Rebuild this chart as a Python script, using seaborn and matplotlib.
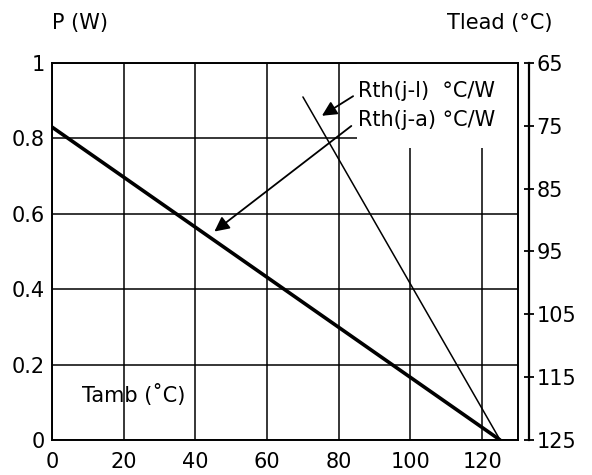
import matplotlib
matplotlib.use("Agg")
import matplotlib.pyplot as plt
from matplotlib.patches import Rectangle
import seaborn as sns
import pandas as pd

# ---- data ----
tamb_ja = [0, 125]          # Rth(j-a) line, Tamb (°C)
p_ja = [0.83, 0.0]          # P (W)
tamb_jl = [70, 125]         # Rth(j-l) line
p_jl = [0.91, 0.0]
x_ticks = [0, 20, 40, 60, 80, 100, 120]
y_ticks = [0, 0.2, 0.4, 0.6, 0.8, 1]
y_tick_labels = ["0", "0.2", "0.4", "0.6", "0.8", "1"]
tlead_ticks = [65, 75, 85, 95, 105, 115, 125]

sns.set_theme(style="white")
plt.rcParams["font.family"] = ["DejaVu Sans"]
plt.rcParams["text.color"] = "black"
plt.rcParams["xtick.color"] = "black"
plt.rcParams["ytick.color"] = "black"
plt.rcParams["xtick.labelcolor"] = "black"
plt.rcParams["ytick.labelcolor"] = "black"
FS = 15

fig = plt.figure(figsize=(5.92, 4.75), dpi=100)
ax = fig.add_axes([52 / 592, 1 - 440 / 475, (518 - 52) / 592, (440 - 63) / 475])

df_ja = pd.DataFrame({"Tamb": tamb_ja, "P": p_ja})
df_jl = pd.DataFrame({"Tamb": tamb_jl, "P": p_jl})
sns.lineplot(data=df_ja, x="Tamb", y="P", ax=ax, color="black", lw=2.6, zorder=3)
sns.lineplot(data=df_jl, x="Tamb", y="P", ax=ax, color="black", lw=1.1, zorder=3)

ax.set_xlim(0, 130)
ax.set_ylim(0, 1)
ax.set_xticks(x_ticks)
ax.set_xticklabels([str(v) for v in x_ticks])
ax.set_yticks(y_ticks)
ax.set_yticklabels(y_tick_labels)
ax.tick_params(axis="both", length=0, pad=5, colors="black", labelsize=FS)
ax.tick_params(axis="x", pad=9)
ax.grid(True, color="black", lw=1.1)
ax.set_axisbelow(True)
for s in ax.spines.values():
    s.set_color("black")
    s.set_linewidth(1.4)
    s.set_visible(True)
ax.set_xlabel("")
ax.set_ylabel("")

# white area behind the labels (grid is interrupted there)
ax.add_patch(Rectangle((85, 0.775), 45, 0.225, facecolor="white",
                       edgecolor="none", zorder=1))

# right axis: Tlead
ax2 = ax.twinx()
ax2.set_ylim(125, 65)
ax2.set_yticks(tlead_ticks)
ax2.set_yticklabels([str(v) for v in tlead_ticks])
ax2.spines["right"].set_position(("outward", 8))
ax2.spines["right"].set_color("black")
ax2.spines["right"].set_linewidth(1.6)
for k in ["left", "top", "bottom"]:
    ax2.spines[k].set_visible(False)
ax2.tick_params(axis="y", direction="inout", length=7, width=1.3, pad=2,
                colors="black", labelsize=FS)
ax2.grid(False)

# labels
fig.text(52 / 592, 1 - 23 / 475, "P (W)", fontsize=FS, va="center", ha="left")
fig.text(447 / 592, 1 - 23 / 475, "Tlead (°C)", fontsize=FS, va="center", ha="left")
ax.text(8.4, 0.12, "Tamb (˚C)", fontsize=FS, va="center", ha="left", zorder=4)

ax.text(85.4, 0.925, "Rth(j-l)  °C/W", fontsize=FS, va="center", ha="left", zorder=4)
ax.text(85.4, 0.85, "Rth(j-a) °C/W", fontsize=FS, va="center", ha="left", zorder=4)

arrow = dict(arrowstyle="-|>", color="black", lw=1.3, mutation_scale=22,
             shrinkA=0, shrinkB=0)
ax.annotate("", xy=(75.3, 0.86), xytext=(84.0, 0.912), arrowprops=arrow, zorder=4)
ax.annotate("", xy=(45.3, 0.553), xytext=(83.5, 0.833), arrowprops=arrow, zorder=4)

fig.savefig("out.png", dpi=100)
